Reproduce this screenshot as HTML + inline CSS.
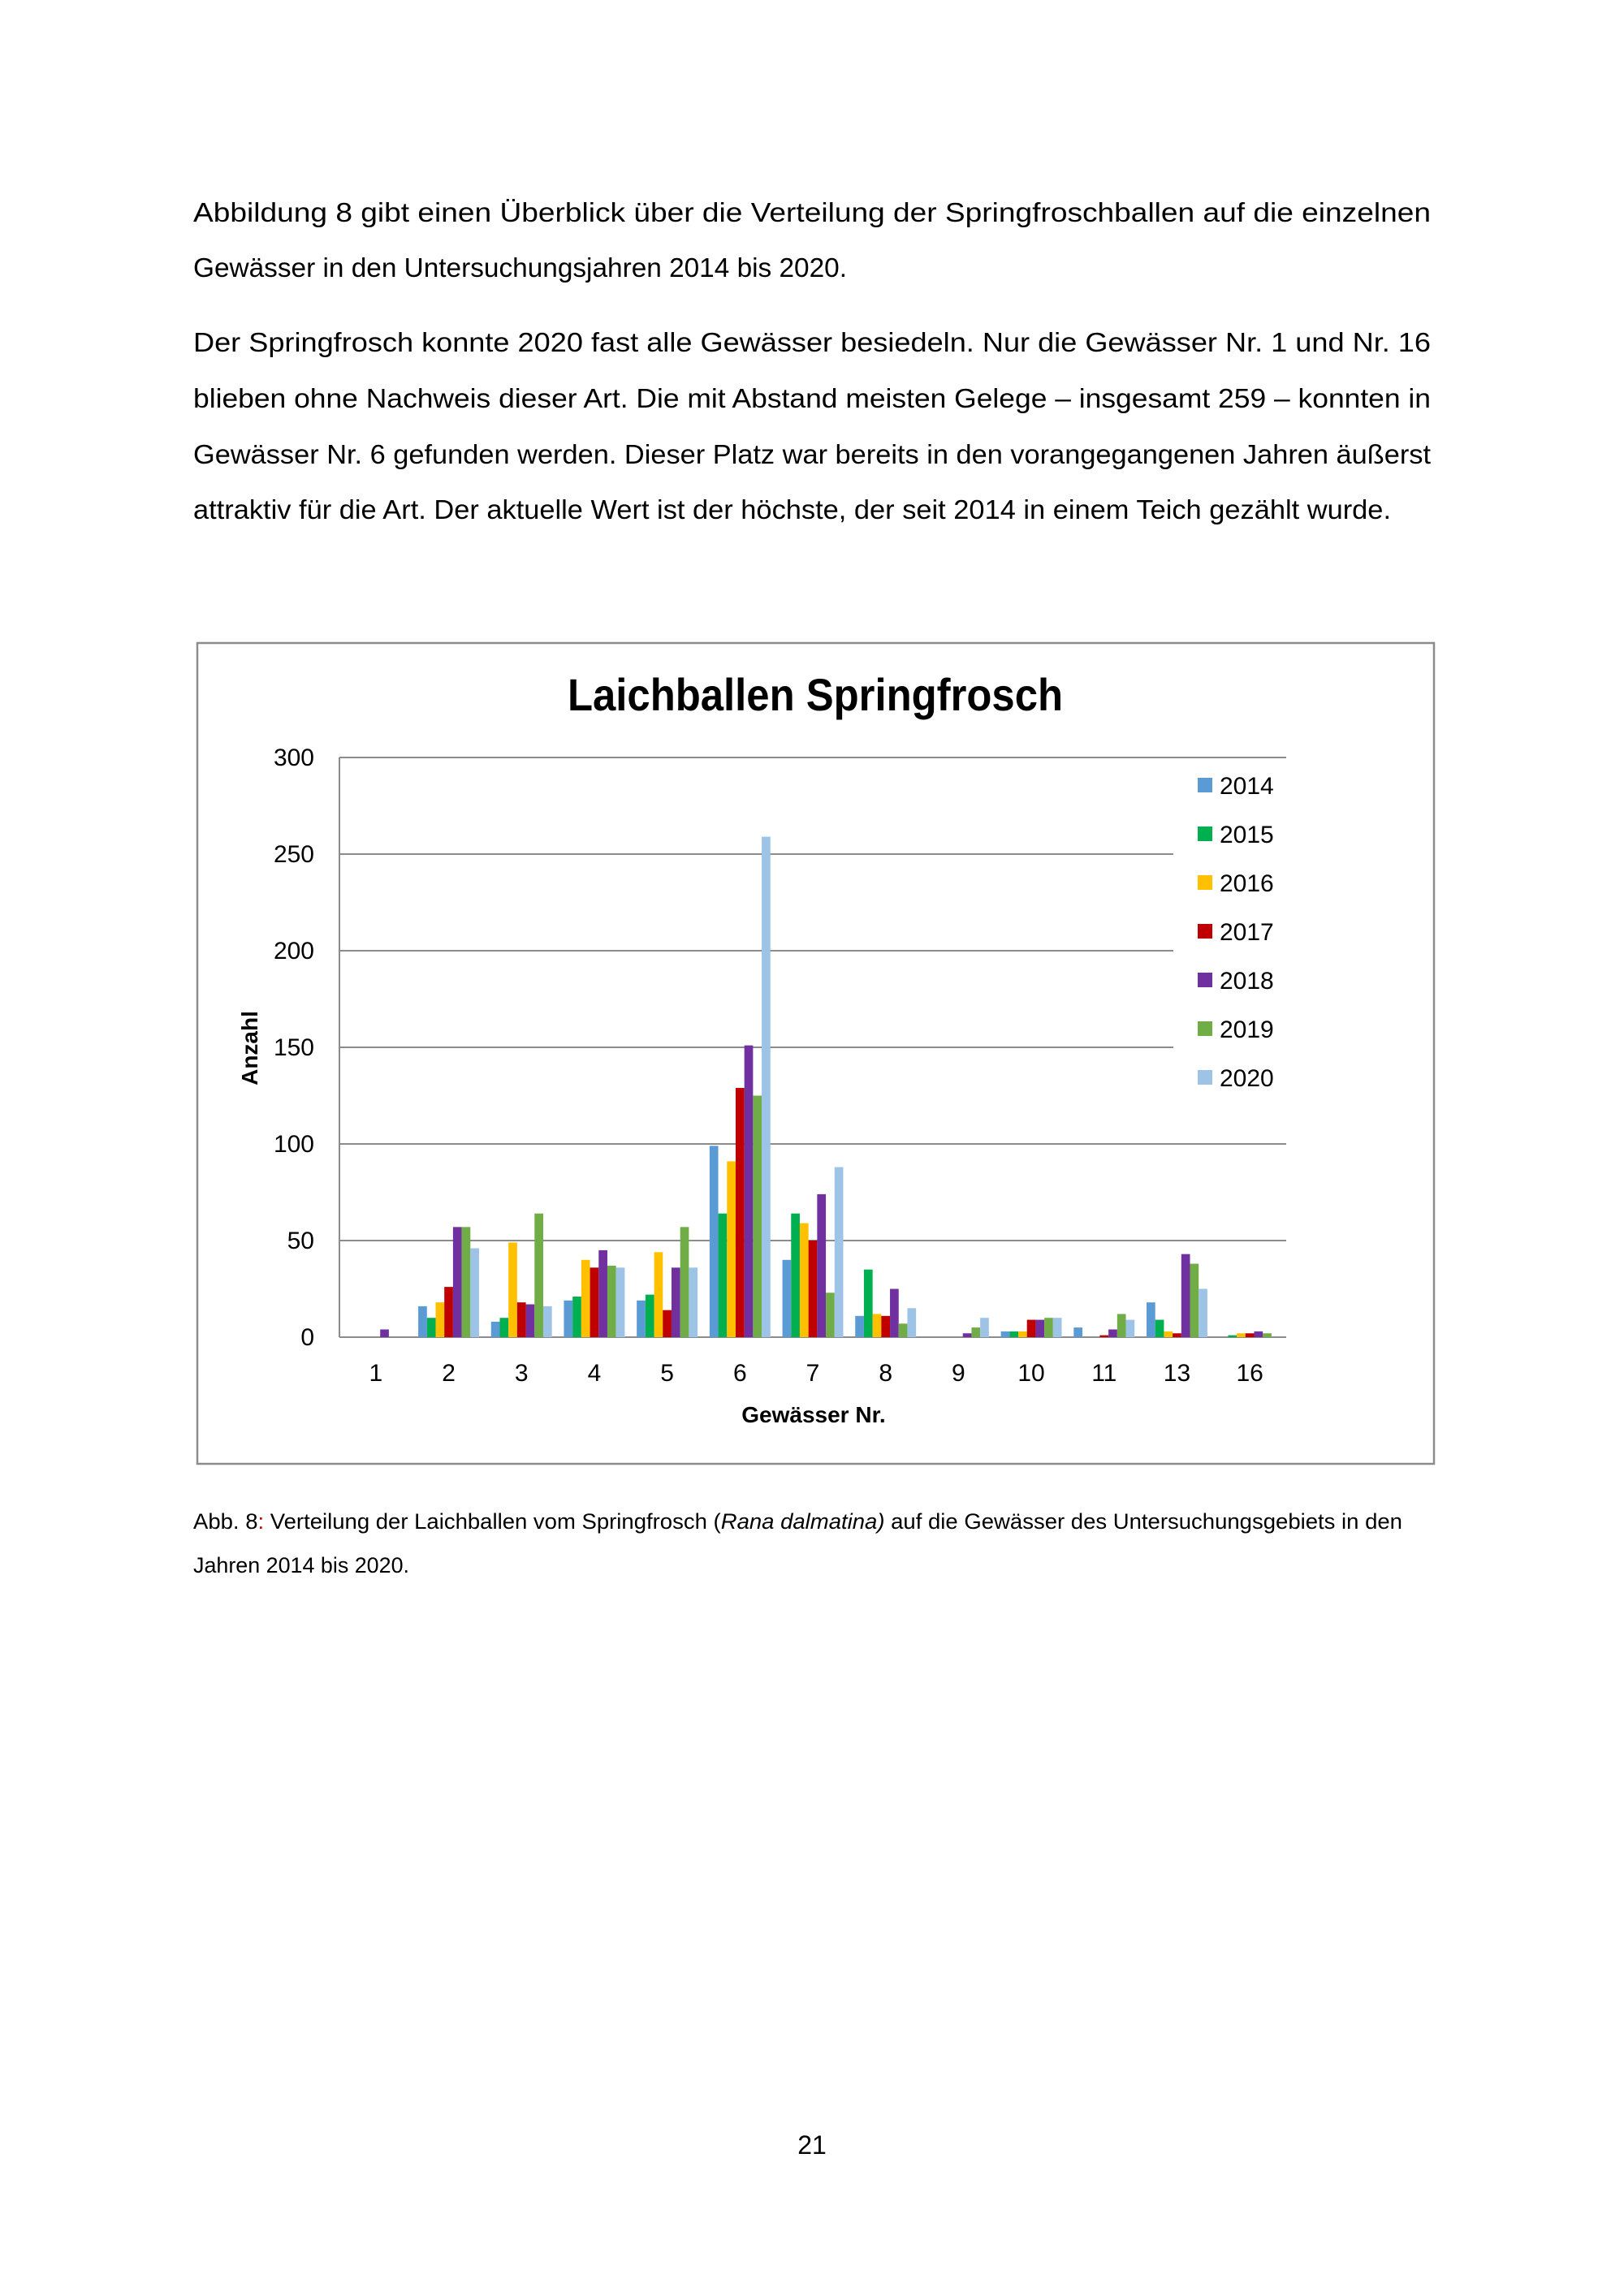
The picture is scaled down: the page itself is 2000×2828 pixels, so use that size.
<!DOCTYPE html>
<html><head><meta charset="utf-8"><style>
html,body{margin:0;padding:0;background:#fff;}
svg{display:block;}
text{font-family:"Liberation Sans",sans-serif;fill:#000;}
</style></head><body>
<svg width="2000" height="2828" viewBox="0 0 2000 2828" xmlns="http://www.w3.org/2000/svg">
<g font-size="33">
<text x="238" y="273" textLength="1524" lengthAdjust="spacingAndGlyphs">Abbildung 8 gibt einen Überblick über die Verteilung der Springfroschballen auf die einzelnen</text>
<text x="238" y="341" textLength="805" lengthAdjust="spacingAndGlyphs">Gewässer in den Untersuchungsjahren 2014 bis 2020.</text>
<text x="238" y="433" textLength="1524" lengthAdjust="spacingAndGlyphs">Der Springfrosch konnte 2020 fast alle Gewässer besiedeln. Nur die Gewässer Nr. 1 und Nr. 16</text>
<text x="238" y="502" textLength="1524" lengthAdjust="spacingAndGlyphs">blieben ohne Nachweis dieser Art. Die mit Abstand meisten Gelege – insgesamt 259 – konnten in</text>
<text x="238" y="571" textLength="1524" lengthAdjust="spacingAndGlyphs">Gewässer Nr. 6 gefunden werden. Dieser Platz war bereits in den vorangegangenen Jahren äußerst</text>
<text x="238" y="639" textLength="1475" lengthAdjust="spacingAndGlyphs">attraktiv für die Art. Der aktuelle Wert ist der höchste, der seit 2014 in einem Teich gezählt wurde.</text>
</g>
<rect x="243" y="792" width="1523" height="1011" fill="#fff" stroke="#8c8c8c" stroke-width="2.5"/>
<text x="1004" y="875" font-size="56" font-weight="bold" text-anchor="middle" textLength="610" lengthAdjust="spacingAndGlyphs">Laichballen Springfrosch</text>
<g stroke="#8c8c8c" stroke-width="2">
<line x1="418" y1="933" x2="1584" y2="933"/>
<line x1="418" y1="1052" x2="1445" y2="1052"/>
<line x1="418" y1="1171" x2="1445" y2="1171"/>
<line x1="418" y1="1290" x2="1445" y2="1290"/>
<line x1="418" y1="1409" x2="1584" y2="1409"/>
<line x1="418" y1="1528" x2="1584" y2="1528"/>
<line x1="418" y1="1647" x2="1584" y2="1647"/>
<line x1="418" y1="933" x2="418" y2="1647"/>
</g>
<g font-size="30" text-anchor="end">
<text x="387" y="943">300</text><text x="387" y="1062">250</text><text x="387" y="1181">200</text>
<text x="387" y="1300">150</text><text x="387" y="1419">100</text><text x="387" y="1538">50</text><text x="387" y="1657">0</text>
</g>
<text transform="translate(317,1291) rotate(-90)" font-size="28" font-weight="bold" text-anchor="middle">Anzahl</text>
<text x="1002" y="1752" font-size="28" font-weight="bold" text-anchor="middle">Gewässer Nr.</text>
<g id="bars"></g>
<g font-size="30" text-anchor="middle" id="xl"></g>
<g id="leg"></g>
<g font-size="27">
<text x="238" y="1883" textLength="1489" lengthAdjust="spacingAndGlyphs">Abb. 8<tspan fill="#c00000">:</tspan> Verteilung der Laichballen vom Springfrosch (<tspan font-style="italic">Rana dalmatina)</tspan> auf die Gewässer des Untersuchungsgebiets in den</text>
<text x="238" y="1937" textLength="266" lengthAdjust="spacingAndGlyphs">Jahren 2014 bis 2020.</text>
</g>
<text x="1000" y="2653" font-size="32" text-anchor="middle">21</text>
</svg>
<script>
var cats=["1","2","3","4","5","6","7","8","9","10","11","13","16"];
var d=[[0,0,0,0,4,0,0],[16,10,18,26,57,57,46],[8,10,49,18,17,64,16],[19,21,40,36,45,37,36],[19,22,44,14,36,57,36],[99,64,91,129,151,125,259],[40,64,59,50,74,23,88],[11,35,12,11,25,7,15],[0,0,0,0,2,5,10],[3,3,3,9,9,10,10],[5,0,0,1,4,12,9],[18,9,3,2,43,38,25],[0,1,2,2,3,2,0]];
var col=["#5B9BD5","#00B050","#FFC000","#C00000","#7030A0","#70AD47","#9DC3E6"];
var yrs=["2014","2015","2016","2017","2018","2019","2020"];
var NS="http://www.w3.org/2000/svg";
var b=document.getElementById("bars"),xl=document.getElementById("xl"),lg=document.getElementById("leg");
var L=418,W=(1584-418)/13,bw=10.7,base=1647,k=714/300;
function el(n,a,p){var e=document.createElementNS(NS,n);for(var i in a)e.setAttribute(i,a[i]);p.appendChild(e);return e;}
for(var i=0;i<13;i++){var c=L+W*(i+0.5);
 for(var j=0;j<7;j++){var v=d[i][j];if(!v)continue;var h=v*k;
  el("rect",{x:c-3.5*bw+j*bw,y:base-h,width:bw,height:h,fill:col[j]},b);}
 var t=el("text",{x:c,y:1701},xl);t.textContent=cats[i];}
for(var j=0;j<7;j++){var y=967+60*j;
 el("rect",{x:1475,y:y-9,width:18,height:18,fill:col[j]},lg);
 var t=el("text",{x:1502,y:y+11,"font-size":30},lg);t.textContent=yrs[j];}
</script>
</body></html>
